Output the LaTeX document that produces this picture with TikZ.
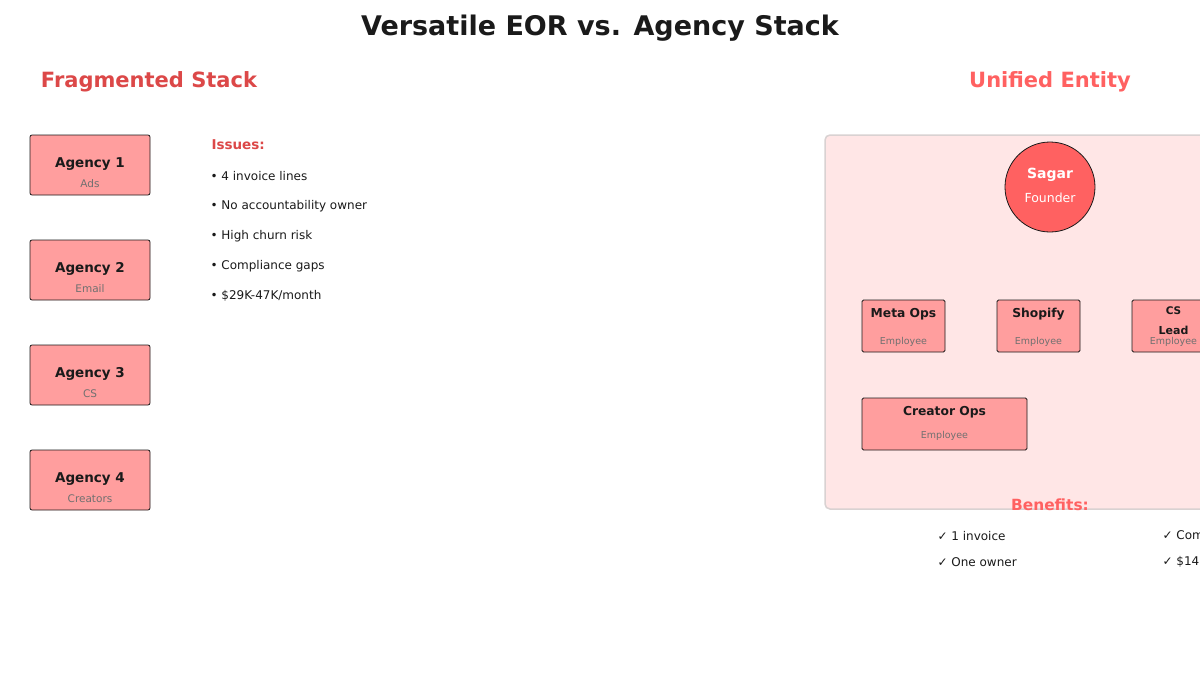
\documentclass[tikz,border=0pt]{standalone}
\usepackage{fontspec}
\setmainfont{DejaVu Sans}
\usetikzlibrary{positioning}
\definecolor{boxred}{HTML}{FF9E9E}
\definecolor{darkred}{HTML}{DC4848}
\definecolor{brightred}{HTML}{FF6161}
\definecolor{panelpink}{HTML}{FFE6E6}
\definecolor{panelgray}{HTML}{D9D2D2}
\definecolor{subgray}{HTML}{707070}
\definecolor{ink}{HTML}{1A1A1A}
\newcommand{\fs}[1]{\fontsize{#1}{#1}\selectfont}
\tikzset{
  agency/.style={draw=ink, fill=boxred, thick, rounded corners=2pt, minimum width=120pt, minimum height=60pt},
  staff/.style={draw=ink, fill=boxred, thick, rounded corners=1.5pt, minimum height=52pt},
  mainlabel/.style={text=ink, font=\fs{13.5}\bfseries},
  sublabel/.style={text=subgray, font=\fs{10.5}},
  itemtext/.style={text=ink, font=\fs{12}, anchor=west},
}
\begin{document}
\begin{tikzpicture}[x=1pt, y=-1pt]
	\useasboundingbox[fill=white] (0,0) rectangle (1200,675);
	\node[text=ink, font=\fs{27}\bfseries] (title) at (600,28) {Versatile EOR vs. Agency Stack};
	% left side
	\node[text=darkred, font=\fs{21}\bfseries] (fraghead) at (149,82) {Fragmented Stack};
	\foreach \i/\sub in {1/Ads, 2/Email, 3/CS, 4/Creators} {
		\node[agency] (ag\i) at (90,60+105*\i) {};
		\node[mainlabel] (agname\i) at (90,59+105*\i) {Agency \i};
		\node[sublabel] (agsub\i) at (90,79+105*\i) {\sub};
	}
	\node[text=darkred, font=\fs{13.5}\bfseries, anchor=west] (issues) at (208,145) {Issues:};
	\foreach \t [count=\k] in {4 invoice lines, No accountability owner, High churn risk, Compliance gaps, \$29K-47K/month}
		\node[itemtext] (issue\k) at (207,146+30*\k) {• \t};
	% right side
	\node[text=brightred, font=\fs{21}\bfseries] (unihead) at (1050,82) {Unified Entity};
	\draw[panelgray, fill=panelpink, line width=1.5pt, rounded corners=5pt] (825,135) rectangle (1260,509);
	\node[circle, draw=ink, fill=brightred, thick, minimum size=90pt] (founder) at (1050,187) {};
	\node[text=white, font=\fs{14}\bfseries] (fname) at (1050,175) {Sagar};
	\node[text=white, font=\fs{12.5}] (frole) at (1050,198) {Founder};
	\node[staff, minimum width=83pt] (meta) at (903.5,326) {};
	\node[staff, minimum width=83pt] (shop) at (1038.5,326) {};
	\node[staff, minimum width=83pt] (cs) at (1173.5,326) {};
	\node[staff, minimum width=165pt] (creator) at (944.5,424) {};
	\node[mainlabel, font=\fs{12.3}\bfseries] at (903.5,314) {Meta Ops};
	\node[mainlabel, font=\fs{12.3}\bfseries] at (1038.5,314) {Shopify};
	\node[mainlabel, font=\fs{10.5}\bfseries] at (1173.5,311) {CS};
	\node[mainlabel, font=\fs{11}\bfseries] at (1173.5,330) {Lead};
	\node[mainlabel, font=\fs{12.3}\bfseries] at (944.5,412) {Creator Ops};
	\foreach \x/\y in {903.5/342, 1038.5/342, 1173.5/342, 944.5/436}
		\node[sublabel, font=\fs{9.5}] at (\x,\y) {Employee};
	\node[text=brightred, font=\fs{15.4}\bfseries] (benefits) at (1050,505) {Benefits:};
	\node[itemtext] (ben1) at (934,536) {✓ 1 invoice};
	\node[itemtext] (ben2) at (934,562) {✓ One owner};
	\node[itemtext] (ben3) at (1159,536) {✓ Compliance covered};
	\node[itemtext] (ben4) at (1159,562) {✓ \$14K/month};
\end{tikzpicture}
\end{document}
